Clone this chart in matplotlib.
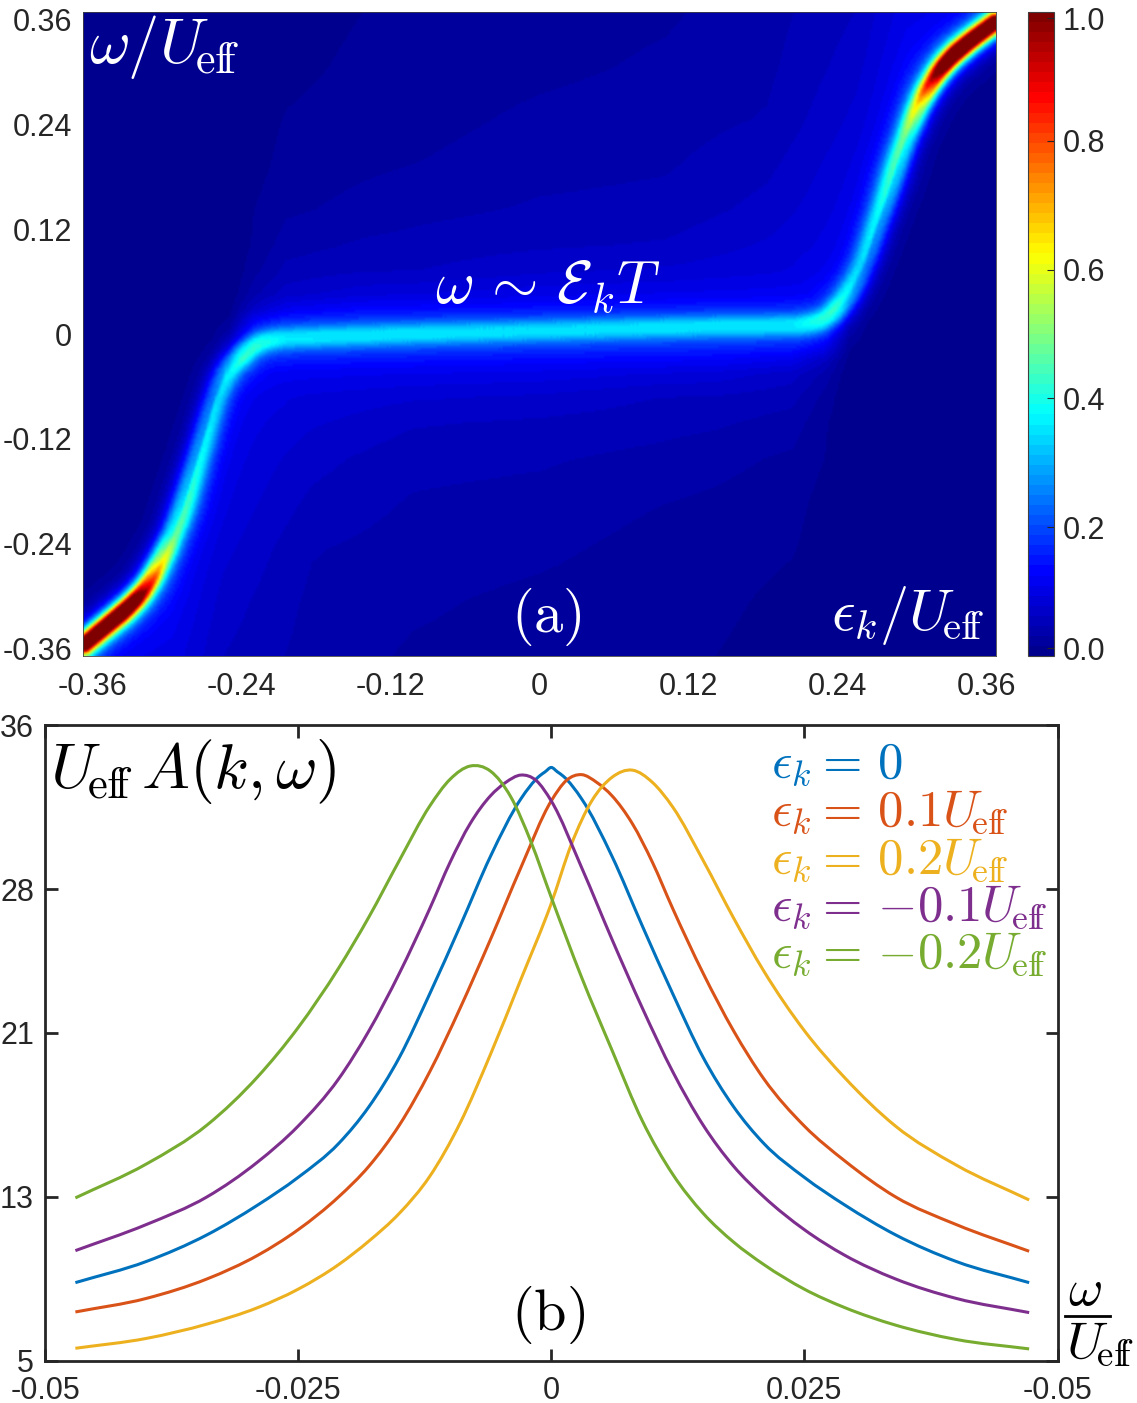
import numpy as np
import matplotlib
matplotlib.use('Agg')
import matplotlib.pyplot as plt
from matplotlib.colors import LinearSegmentedColormap
from matplotlib.lines import Line2D
from matplotlib.patches import PathPatch
from matplotlib.path import Path

W, H = 1137, 1403
plt.rcParams['font.family'] = ['Liberation Sans', 'DejaVu Sans']
plt.rcParams['mathtext.fontset'] = 'cm'
INK = '#262626'
UEFF = r'U\!_{\mathrm{ef\!f}}'

# ---- panel (a): ridge of the spectral function
ridge_eps = [-.36, -.341, -.324, -.3103, -.3, -.2903, -.282, -.2733, -.2649, -.2567, -.248, -.237,
             -.2255, -.2125, -.189, -.11, 0, .111, .19, .2133, .2307, .2456, .257, .2654, .2744,
             .2835, .2922, .3009, .3095, .3205, .3355, .36]
ridge_omega = [-.3477, -.3253, -.3052, -.2829, -.256, -.227, -.1968, -.1554, -.1152, -.0738, -.0436, -.0257,
               -.0123, -.0056, -.0034, 0, .0034, .0078, .0089, .0101, .019, .0458, .0794, .1163, .1532,
               .1945, .2281, .2583, .2806, .303, .3231, .3488]
peak_eps = [-.36, -.33, -.32, -.31, -.3, -.29, -.28, -.27, -.256, -.248, -.236, -.225, -.2, 0,
            .2, .225, .236, .248, .256, .27, .28, .29, .3, .31, .32, .33, .36]
peak_val = [1.15, 1.2, 1.1, .82, .55, .38, .33, .28, .24, .26, .3, .27, .2, .19,
            .2, .27, .3, .26, .24, .28, .33, .38, .55, .82, 1.1, 1.2, 1.15]
width_px = [9.5, 9.5, 9.5, 10, 11, 12, 13, 13, 13, 13, 12, 11, 11, 11,
            11, 11, 12, 13, 13, 13, 13, 12, 11, 10, 9.5, 9.5, 9.5]

# smooth background above the ridge, the part below is its point mirror
bg_eps = [-.36, -.26, -.245, -.225, -.2, -.14, -.09, 0, .1, .18, .25, .29, .36]
bg_omega = [0, .015, .03, .045, .07, .10, .14, .19, .24, .30, .36]
bg_000 = [0, 0, .016, .12, .15, .155, .158, .16, .165, .17, .17, .17, .17]
bg_015 = [0, 0, .01, .10, .135, .145, .148, .15, .155, .16, .16, .16, .16]
bg_030 = [0, 0, .005, .06, .10, .118, .12, .125, .13, .135, .14, .14, .14]
bg_045 = [0, 0, 0, .04, .068, .085, .09, .10, .105, .11, .12, .13, .13]
bg_070 = [0, 0, 0, .026, .052, .061, .0625, .075, .08, .09, .105, .125, .125]
bg_100 = [0, 0, 0, .018, .039, .049, .053, .059, .064, .08, .10, .125, .125]
bg_140 = [0, 0, 0, .0156, .028, .036, .042, .049, .052, .068, .095, .125, .125]
bg_190 = [0, 0, 0, .009, .022, .028, .032, .041, .045, .058, .088, .12, .12]
bg_240 = [0, 0, 0, .006, .017, .024, .026, .035, .04, .048, .08, .115, .115]
bg_300 = [0, 0, 0, .002, .010, .02, .022, .027, .034, .043, .07, .11, .11]
bg_360 = [0, 0, 0, 0, .006, .0156, .019, .024, .029, .04, .062, .10, .10]

heat_ticks = [-.36, -.24, -.12, 0, .12, .24, .36]
heat_labels = ['-0.36', '-0.24', '-0.12', '0', '0.12', '0.24', '0.36']
bar_ticks = [.012, .2, .4, .6, .8, .99]
bar_labels = ['0.0', '0.2', '0.4', '0.6', '0.8', '1.0']

# ---- panel (b): line cuts
w_blue = [-.047, -.04, -.034, -.029, -.025, -.021, -.018, -.015, -.012, -.009, -.006, -.003, -.0012, -.0006, 0,
          .0006, .0012, .003, .006, .009, .012, .015, .018, .021, .025, .029, .034, .04, .0472]
a_blue = [8.82, 9.85, 11.15, 12.6, 13.95, 15.6, 17.4, 19.8, 22.9, 26.2, 29.6, 32.4, 33.5, 33.72, 33.93,
          33.72, 33.5, 32.4, 29.6, 26.2, 22.9, 19.8, 17.4, 15.6, 13.95, 12.6, 11.15, 9.85, 8.82]
w_red = [-.047, -.04, -.034, -.029, -.025, -.021, -.018, -.015, -.012, -.009, -.006, -.003, 0, .0015, .003, .0045,
         .006, .008, .010, .012, .015, .018, .021, .025, .029, .034, .04, .0472]
a_red = [7.39, 8.05, 9.0, 10.15, 11.4, 13.0, 14.5, 16.5, 19.1, 22.2, 25.55, 29.05, 32.3, 33.3, 33.58, 33.2,
         32.55, 31.2, 29.3, 27.05, 23.9, 21.1, 18.75, 16.45, 14.75, 13.0, 11.65, 10.35]
w_yellow = [-.047, -.04, -.034, -.029, -.025, -.021, -.018, -.015, -.012, -.009, -.006, -.003, 0, .002, .004, .006,
            .008, .010, .012, .015, .018, .021, .025, .029, .034, .04, .0472]
a_yellow = [5.62, 6.1, 6.8, 7.6, 8.5, 9.7, 10.85, 12.2, 14.0, 16.6, 19.95, 23.6, 27.3, 30.2, 32.3, 33.45,
            33.8, 33.2, 32.0, 29.4, 26.6, 24.0, 21.1, 18.8, 16.45, 14.55, 12.85]
w_purple = [-.047, -.04, -.034, -.029, -.025, -.021, -.018, -.015, -.012, -.010, -.008, -.006, -.0045, -.003, -.0015,
            0, .003, .006, .009, .012, .015, .018, .021, .025, .029, .034, .04, .0472]
a_purple = [10.38, 11.65, 13.0, 14.7, 16.45, 18.75, 21.1, 23.9, 27.05, 29.3, 31.2, 32.55, 33.2, 33.56, 33.3,
            32.3, 29.05, 25.55, 22.2, 19.1, 16.5, 14.5, 13.0, 11.4, 10.15, 9.0, 8.05, 7.36]
w_green = [-.047, -.04, -.034, -.029, -.025, -.021, -.018, -.015, -.012, -.010, -.008, -.006, -.004, -.002, 0, .003,
           .006, .009, .012, .015, .018, .021, .025, .029, .034, .04, .0472]
a_green = [12.95, 14.6, 16.5, 18.85, 21.25, 24.15, 26.65, 29.4, 32.05, 33.35, 34.0, 33.75, 32.5, 30.3, 27.6, 23.7,
           20.15, 16.7, 14.1, 12.2, 10.8, 9.7, 8.5, 7.6, 6.75, 6.05, 5.59]

x_ticks_b = [-.05, -.025, 0, .025, .05]
x_labels_b = ['-0.05', '-0.025', '0', '0.025', '-0.05']
y_ticks_b = [5, 13, 21, 28, 36]


def axes_px(fig, left, top, right, bottom):
    return fig.add_axes([left / W, 1 - bottom / H, (right - left) / W, (bottom - top) / H])


def put(fig, x, y, s, size, color='k'):
    fig.text(x / W, 1 - y / H, s, fontsize=size, color=color, ha='left', va='baseline')


def curve(ax, xs, ys, color):
    # bezier segments through the points, tangents from the neighbours
    x = np.array(xs)
    y = np.array(ys)
    m = np.gradient(y, x)
    verts = [(x[0], y[0])]
    codes = [Path.MOVETO]
    for i in range(len(x) - 1):
        h = x[i + 1] - x[i]
        verts += [(x[i] + h / 3, y[i] + m[i] * h / 3),
                  (x[i + 1] - h / 3, y[i + 1] - m[i + 1] * h / 3),
                  (x[i + 1], y[i + 1])]
        codes += [Path.CURVE4] * 3
    ax.add_patch(PathPatch(Path(verts, codes), fill=False, edgecolor=color, lw=2.2, capstyle='butt'))


def spectral_map(nx=457, ny=322):
    eps = np.linspace(-.36, .36, nx)
    om = np.linspace(-.36, .36, ny)
    sx, sy = 913 / .72, 644 / .72

    # background table on the pixel grid
    table = np.array([bg_000, bg_015, bg_030, bg_045, bg_070, bg_100, bg_140, bg_190, bg_240, bg_300, bg_360])
    across = np.array([np.interp(eps, bg_eps, row) for row in table])
    up = np.array([np.interp(om, bg_omega, across[:, j]) for j in range(nx)]).T
    low = up[::-1, ::-1]
    line_om = np.interp(eps, ridge_eps, ridge_omega)
    ee, oo = np.meshgrid(eps, om)
    above = .5 * (1 + np.tanh((oo - line_om[None, :]) * sy / 5))
    bg = above * up + (1 - above) * low

    # distance to the ridge in pixels, round off its corners a little first
    t = np.linspace(0, len(ridge_eps) - 1, 900)
    idx = np.arange(len(ridge_eps))
    re = np.interp(t, idx, ridge_eps)
    ro = np.interp(t, idx, ridge_omega)
    box = np.ones(31) / 31
    re[15:-15] = np.convolve(re, box, mode='valid')
    ro[15:-15] = np.convolve(ro, box, mode='valid')
    rp = np.interp(re, peak_eps, peak_val)
    rw = np.interp(re, peak_eps, width_px)
    core = np.zeros_like(ee)
    for i in range(ny):
        dx = (ee[i, :, None] - re) * sx
        dy = (oo[i, :, None] - ro) * sy
        d2 = dx ** 2 + dy ** 2
        k = d2.argmin(axis=1)
        core[i] = rp[k] / (1 + (d2[np.arange(nx), k] / rw[k] ** 2) ** 1.5)
    return np.clip(bg + core, 0, 1)


# jet as MATLAB has it, 64 steps
jet = LinearSegmentedColormap.from_list('jet64', [(0, (0, 0, .5625)), (.125, (0, 0, 1)), (.375, (0, 1, 1)),
                                                  (.625, (1, 1, 0)), (.875, (1, 0, 0)), (1, (.5, 0, 0))], N=64)

fig = plt.figure(figsize=(W / 100, H / 100), dpi=100)

# top panel
ax1 = axes_px(fig, 83, 12, 996, 656)
im = ax1.imshow(spectral_map(), origin='lower', extent=[-.36, .36, -.36, .36], aspect='auto',
                cmap=jet, vmin=0, vmax=1, interpolation='bilinear')
ax1.set_xticks(np.array(heat_ticks) * .98)
ax1.set_xticklabels(heat_labels)
ax1.set_yticks(np.array(heat_ticks) * .977)
ax1.set_yticklabels(heat_labels)
ax1.tick_params(length=0, labelsize=22, labelcolor=INK, pad=8)
ax1.tick_params(axis='x', pad=11.5)
for s in ax1.spines.values():
    s.set_linewidth(.6)
    s.set_color('#404040')

cax = axes_px(fig, 1028, 12, 1054, 656)
cb = fig.colorbar(im, cax=cax)
cb.set_ticks(bar_ticks)
cb.set_ticklabels(bar_labels)
cax.tick_params(direction='in', length=5, width=.8, color=INK, labelsize=22, labelcolor=INK, pad=6)
cb.outline.set_linewidth(.8)
cb.outline.set_edgecolor('#404040')

put(fig, 89, 63, r'$\omega/' + UEFF + '$', 45, 'white')
put(fig, 435, 303, r'$\omega\,\sim\,\mathcal{E}_k T$', 43, 'white')
put(fig, 511, 632, '$\\mathrm{(a)}$', 42, 'white')
put(fig, 831, 630, r'$\epsilon_k/' + UEFF + '$', 42, 'white')

# bottom panel
ax2 = axes_px(fig, 45, 725, 1057.5, 1361)
curve(ax2, w_blue, a_blue, '#0072BD')
curve(ax2, w_red, a_red, '#D95319')
curve(ax2, w_yellow, a_yellow, '#EDB120')
curve(ax2, w_purple, a_purple, '#7E2F8E')
curve(ax2, w_green, a_green, '#77AC30')
ax2.set_xlim(-.05, .05)
ax2.set_ylim(5, 36)
ax2.set_xticks(x_ticks_b)
ax2.set_xticklabels(x_labels_b)
ax2.set_yticks(y_ticks_b)
ax2.tick_params(direction='in', length=9, width=2, color=INK, labelsize=22, labelcolor=INK,
                top=True, right=True)
ax2.tick_params(axis='x', pad=10.5)
ax2.tick_params(axis='y', pad=8)
for s in ax2.spines.values():
    s.set_linewidth(2)
    s.set_color(INK)

put(fig, 50, 788, '$' + UEFF + r'\,A(k,\omega)$', 46)
put(fig, 511, 1330, '$\\mathrm{(b)}$', 42)
legend_rows = [(777, r'$\epsilon_k=\,0$', '#0072BD'),
               (825, r'$\epsilon_k=\,0.1' + UEFF + '$', '#D95319'),
               (873, r'$\epsilon_k=\,0.2' + UEFF + '$', '#EDB120'),
               (920, r'$\epsilon_k=\,{-}0.1' + UEFF + '$', '#7E2F8E'),
               (967, r'$\epsilon_k=\,{-}0.2' + UEFF + '$', '#77AC30')]
for base, s, c in legend_rows:
    put(fig, 771, base, s, 36.5, c)

# axis name on the right, stacked by hand
put(fig, 1068, 1305, r'$\omega$', 38)
fig.add_artist(Line2D([1065 / W, 1110 / W], [1 - 1316 / H, 1 - 1316 / H], color='k', lw=2))
put(fig, 1066, 1358, '$' + UEFF + '$', 38)

fig.savefig('out.png', dpi=100)
